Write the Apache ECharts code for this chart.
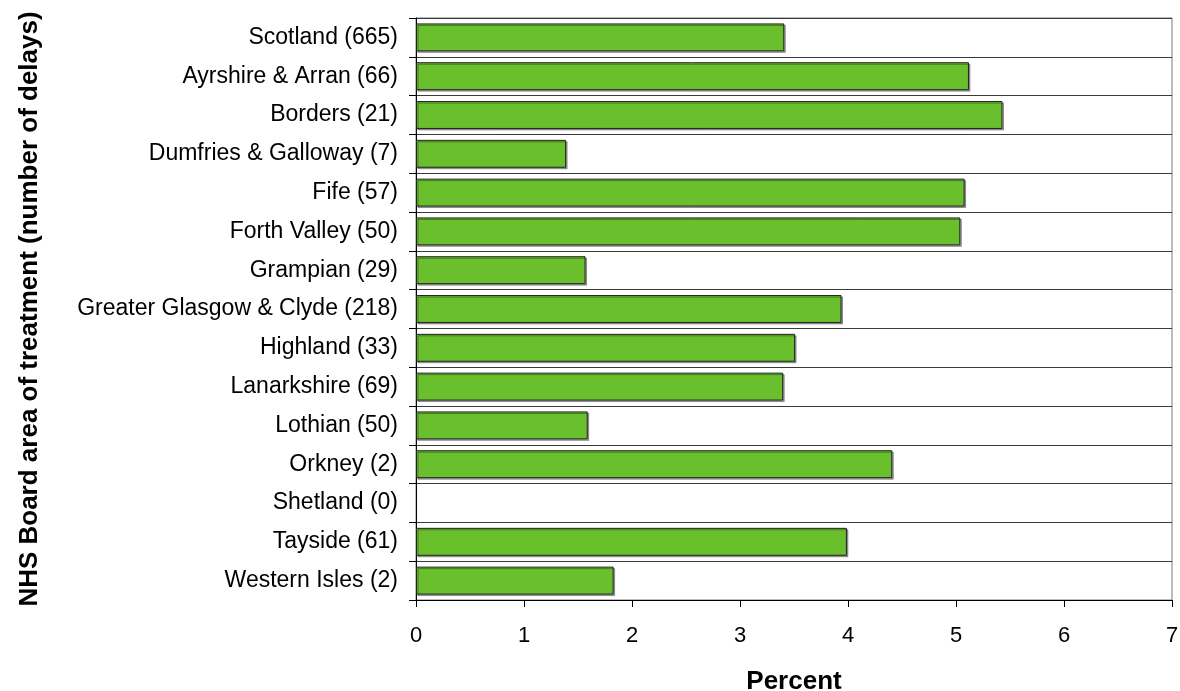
<!DOCTYPE html>
<html>
<head>
<meta charset="utf-8">
<script src="https://cdn.jsdelivr.net/npm/echarts@6/dist/echarts.min.js"></script>
<style>
  html, body { margin: 0; padding: 0; background: #fff; }
  #chart { width: 1180px; height: 691px; }
</style>
</head>
<body>
<div id="chart"></div>
<script>
// NHS Board areas with number of delays in brackets
const boards = [
  'Scotland (665)', 'Ayrshire & Arran (66)', 'Borders (21)', 'Dumfries & Galloway (7)',
  'Fife (57)', 'Forth Valley (50)', 'Grampian (29)', 'Greater Glasgow & Clyde (218)',
  'Highland (33)', 'Lanarkshire (69)', 'Lothian (50)', 'Orkney (2)', 'Shetland (0)',
  'Tayside (61)', 'Western Isles (2)'
];
// Percent of delays per board
const percent = [3.41, 5.12, 5.43, 1.39, 5.08, 5.04, 1.57, 3.94, 3.51, 3.40, 1.59, 4.41, 0, 3.99, 1.83];
const percentTicks = [0, 7, 1]; // min, max, interval

const font = 'Liberation Sans, Arial, sans-serif';
const chart = echarts.init(document.getElementById('chart'), null, { renderer: 'canvas' });

// zero-valued boards get no outline so nothing is drawn for them
const barData = percent.map(v => v === 0
  ? { value: v, itemStyle: { borderWidth: 0, shadowColor: 'transparent' } }
  : v);

chart.setOption({
  animation: false,
  backgroundColor: '#ffffff',
  grid: {
    left: 416, right: 8, top: 18, bottom: 91,
    outerBoundsMode: 'none',
    containLabel: false,
    show: true, borderColor: '#7a7a7a', borderWidth: 1, backgroundColor: 'transparent'
  },
  xAxis: {
    type: 'value',
    min: percentTicks[0], max: percentTicks[1], interval: percentTicks[2],
    name: 'Percent',
    nameLocation: 'middle',
    nameGap: 69,
    nameTextStyle: { fontFamily: font, fontSize: 26, fontWeight: 'bold', color: '#000' },
    axisLine: { show: true, lineStyle: { color: '#000', width: 1 } },
    axisTick: { show: true, inside: false, length: 7, lineStyle: { color: '#000' } },
    axisLabel: { fontFamily: font, fontSize: 22, color: '#000', margin: 25 },
    splitLine: { show: false }
  },
  yAxis: {
    type: 'category',
    data: boards,
    inverse: true,
    name: 'NHS Board area of treatment (number of delays)',
    nameLocation: 'middle',
    nameGap: 373,
    nameRotate: 90,
    nameTextStyle: { fontFamily: font, fontSize: 26, fontWeight: 'bold', color: '#000' },
    axisLine: { show: true, lineStyle: { color: '#000', width: 1 } },
    axisTick: { show: true, inside: false, length: 7, lineStyle: { color: '#000' } },
    axisLabel: { fontFamily: font, fontSize: 23, color: '#000', margin: 18 },
    splitLine: { show: true, lineStyle: { color: '#3a3a3a', width: 1 } }
  },
  series: [{
    type: 'bar',
    data: barData,
    barCategoryGap: '28%',
    itemStyle: {
      color: '#69bf2c',
      borderColor: '#222',
      borderWidth: 1,
      shadowColor: 'rgba(0,0,0,0.35)',
      shadowOffsetX: 1.5,
      shadowOffsetY: 1.5,
      shadowBlur: 0
    },
    silent: true
  }]
});
</script>
</body>
</html>
